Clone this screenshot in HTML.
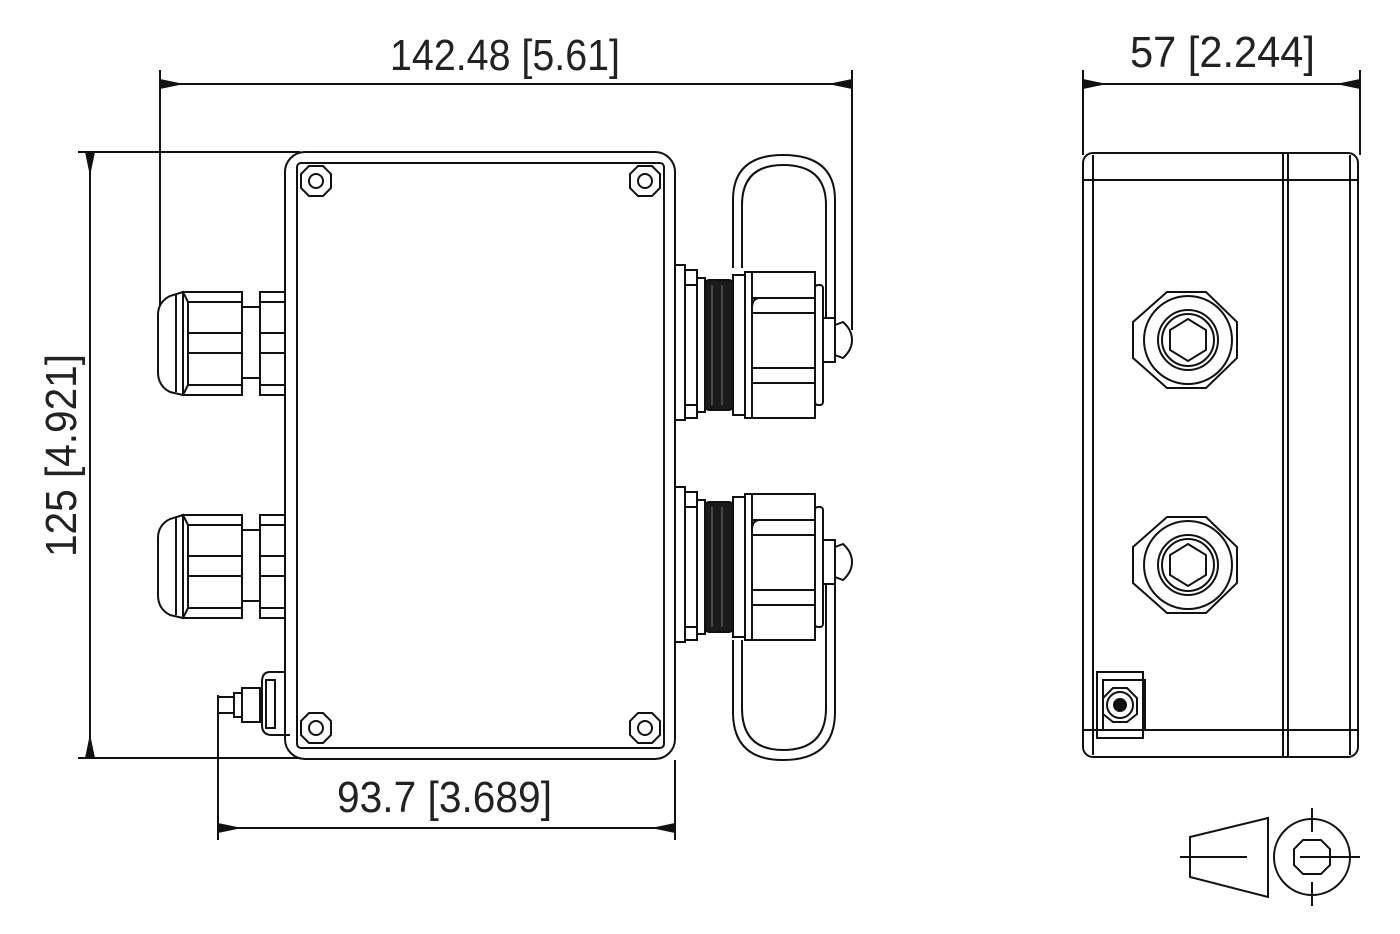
<!DOCTYPE html>
<html><head><meta charset="utf-8"><style>
html,body{margin:0;padding:0;background:#fff}
svg{display:block}
text{font-family:"Liberation Sans",sans-serif;fill:#222;font-size:44px}
</style></head><body>
<svg width="1400" height="934" viewBox="0 0 1400 934" xmlns="http://www.w3.org/2000/svg">
<defs>
<marker id="a" viewBox="0 0 24 10" refX="0" refY="5" markerWidth="24" markerHeight="10" markerUnits="userSpaceOnUse" orient="auto-start-reverse"><path d="M0,5 L24,0 L24,10 Z" fill="#111"/></marker>
<g id="glandL">
 <path d="M183,292 L170,296 Q158,302 158,315 L158,372 Q158,386 170,392 L183,395 Z" fill="none"/>
 <line x1="176" y1="295" x2="176" y2="392"/>
 <path d="M183,292 L242,292 L242,395 L183,395 L188,385 L188,302 Z" fill="none"/>
 <line x1="188" y1="302" x2="242" y2="302"/><line x1="188" y1="333" x2="242" y2="333"/>
 <line x1="188" y1="353" x2="242" y2="353"/><line x1="188" y1="385" x2="242" y2="385"/>
 <rect x="242" y="307" width="18" height="71" fill="none"/>
 <rect x="260" y="292" width="25" height="103" fill="none"/>
 <line x1="260" y1="302" x2="285" y2="302"/><line x1="260" y1="333" x2="285" y2="333"/>
 <line x1="260" y1="353" x2="285" y2="353"/><line x1="260" y1="385" x2="285" y2="385"/>
</g>
<g id="conn">
 <rect x="675" y="265" width="10" height="155" fill="none"/>
 <rect x="685" y="270" width="12" height="148" fill="none"/>
 <line x1="685" y1="285" x2="697" y2="285"/><line x1="685" y1="405" x2="697" y2="405"/>
 <rect x="697" y="278" width="8" height="134" fill="none"/>
 <rect x="705" y="280" width="28" height="130" fill="#1a1a1a" rx="4"/>
 <line x1="712" y1="285" x2="712" y2="405" stroke="#777" stroke-width="1"/>
 <line x1="722" y1="285" x2="722" y2="405" stroke="#777" stroke-width="1"/>
 <rect x="733" y="275" width="12" height="140" fill="none"/>
 <path d="M745,272 L815,272 L815,418 L745,418 Z" fill="none"/>
 <path d="M752,272 L752,418" />
 <path d="M760,298 Q752,298 752,308" fill="none"/>
 <line x1="752" y1="298" x2="815" y2="298"/><line x1="752" y1="313" x2="815" y2="313"/>
 <line x1="752" y1="368" x2="815" y2="368"/><line x1="752" y1="383" x2="815" y2="383"/>
 <rect x="815" y="285" width="8" height="120" rx="3" fill="none"/>
 <rect x="823" y="318" width="12" height="44" fill="none"/>
 <path d="M835,325 L843,322 Q852,330 852,340 Q852,350 843,358 L835,355 Z" fill="none"/>
</g>
</defs>
<g stroke="#111" stroke-width="2" fill="none">
 <line x1="160" y1="70" x2="160" y2="305"/>
 <line x1="852" y1="70" x2="852" y2="330"/>
 <line x1="184" y1="84" x2="828" y2="84" marker-start="url(#a)" marker-end="url(#a)"/>
 <line x1="160" y1="84" x2="852" y2="84"/>
 <line x1="78" y1="152" x2="300" y2="152"/>
 <line x1="78" y1="758" x2="300" y2="758"/>
 <line x1="90" y1="176" x2="90" y2="734" marker-start="url(#a)" marker-end="url(#a)"/>
 <line x1="90" y1="152" x2="90" y2="758"/>
 <line x1="218" y1="695" x2="218" y2="840"/>
 <line x1="675" y1="760" x2="675" y2="840"/>
 <line x1="242" y1="828" x2="651" y2="828" marker-start="url(#a)" marker-end="url(#a)"/>
 <line x1="218" y1="828" x2="675" y2="828"/>
 <rect x="285" y="152" width="390" height="607" rx="20"/>
 <rect x="297" y="163" width="367" height="585" rx="4"/>
 <g id="scr"><polygon points="309,166 323,166 331,174 331,188 323,196 309,196 301,188 301,174"/><circle cx="316" cy="181" r="7"/></g>
 <use href="#scr" x="329"/><use href="#scr" y="547"/><use href="#scr" x="329" y="547"/>
 <use href="#glandL"/><use href="#glandL" y="223"/>
 <path d="M285,672 L270,672 Q262,672 262,682 L262,725 Q262,735 272,735 L290,735" />
 <rect x="266" y="680" width="9" height="48"/>
 <rect x="242" y="688" width="18" height="34"/>
 <rect x="234" y="693" width="8" height="24"/>
 <rect x="218" y="697" width="16" height="16"/>
 <use href="#conn"/><use href="#conn" y="222"/>
 <path d="M733,268 L733,200 Q733,155 783,155 Q835,155 835,200 L835,318"/>
 <path d="M742,268 L742,205 Q742,165 783,165 Q826,165 826,205 L826,318"/>
 <path d="M733,640 L733,712 Q733,760 783,760 Q835,760 835,712 L835,584"/>
 <path d="M742,640 L742,708 Q742,750 783,750 Q826,750 826,708 L826,584"/>
 <line x1="1083" y1="70" x2="1083" y2="155"/>
 <line x1="1360" y1="70" x2="1360" y2="155"/>
 <line x1="1107" y1="84" x2="1336" y2="84" marker-start="url(#a)" marker-end="url(#a)"/>
 <line x1="1083" y1="84" x2="1360" y2="84"/>
 <rect x="1083" y="153" width="275" height="604" rx="10"/>
 <line x1="1093" y1="155" x2="1093" y2="755"/>
 <line x1="1083" y1="180" x2="1358" y2="180"/>
 <line x1="1083" y1="730" x2="1358" y2="730"/>
 <line x1="1283" y1="153" x2="1283" y2="757"/>
 <line x1="1288" y1="153" x2="1288" y2="757"/>
 <line x1="1350" y1="155" x2="1350" y2="755"/>
 <g id="sg"><polygon points="1167,292 1206,292 1237,322 1237,358 1206,388 1167,388 1133,358 1133,322"/>
 <circle cx="1188" cy="340" r="44"/><circle cx="1188" cy="340" r="30"/><circle cx="1188" cy="340" r="26"/>
 <polygon points="1188,319 1206,330 1206,350 1188,361 1170,350 1170,330"/></g>
 <use href="#sg" y="225"/>
 <rect x="1097" y="672" width="46" height="66"/>
 <rect x="1103" y="680" width="42" height="50"/>
 <polygon points="1113,688 1127,688 1137,698 1137,714 1127,722 1113,722 1103,714 1103,698"/>
 <circle cx="1120" cy="705" r="13"/><circle cx="1120" cy="705" r="6" fill="#111"/>
 <polygon points="1190,837 1268,818 1268,897 1190,877"/>
 <line x1="1180" y1="857" x2="1247" y2="857"/>
 <circle cx="1312" cy="857" r="38"/>
 <polygon points="1303,840 1321,840 1330,849 1330,865 1321,874 1303,874 1294,865 1294,849"/>
 <line x1="1300" y1="857" x2="1360" y2="857"/>
 <line x1="1312" y1="808" x2="1312" y2="832"/><line x1="1312" y1="882" x2="1312" y2="906"/>
</g>
<text x="390" y="70" textLength="230" lengthAdjust="spacingAndGlyphs">142.48 [5.61]</text>
<text x="337" y="812" textLength="215" lengthAdjust="spacingAndGlyphs">93.7 [3.689]</text>
<text x="1130" y="67" textLength="185" lengthAdjust="spacingAndGlyphs">57 [2.244]</text>
<text transform="translate(76,557) rotate(-90)" textLength="203" lengthAdjust="spacingAndGlyphs">125 [4.921]</text>
</svg>
</body></html>
